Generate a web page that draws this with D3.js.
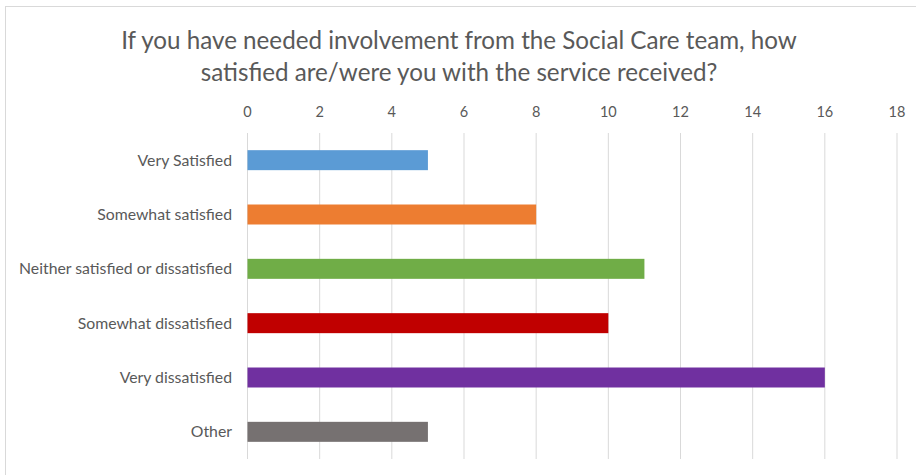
<!DOCTYPE html>
<html>
<head>
<meta charset="utf-8">
<script src="https://cdn.jsdelivr.net/npm/d3@7"></script>
<style>
  body { margin: 0; background: #fff; }
  text { font-family: Lato, "Open Sans", sans-serif; fill: #595959; }
</style>
</head>
<body>
<div id="chart"></div>
<script>
// survey answers, top to bottom
const categories = [
    "Very Satisfied",
    "Somewhat satisfied",
    "Neither satisfied or dissatisfied",
    "Somewhat dissatisfied ",
    "Very dissatisfied",
    "Other"
];
const counts = [5, 8, 11, 10, 16, 5];
const barColors = ["#5B9BD5", "#ED7D31", "#70AD47", "#C00000", "#7030A0", "#767171"];
const ticks = [0, 2, 4, 6, 8, 10, 12, 14, 16, 18];
const titleLines = [
    "If you have needed involvement from the Social Care team, how",
    "satisfied are/were you with the service received?"
];

const width = 916;
const height = 475;
const margin = { top: 133, right: 19, bottom: 16, left: 247.5 };

const svg = d3.select("#chart").append("svg")
    .attr("width", width)
    .attr("height", height);

// chart frame
svg.append("rect")
    .attr("x", 5.5)
    .attr("y", 6.5)
    .attr("width", width + 10)
    .attr("height", height + 10)
    .attr("fill", "#fff")
    .attr("stroke", "#d9d9d9");

const x = d3.scaleLinear()
    .domain([0, 18])
    .range([margin.left, width - margin.right]);

const y = d3.scaleBand()
    .domain(categories)
    .range([margin.top, height - margin.bottom])
    .paddingInner(0.632)
    .paddingOuter(0.316);

// title
svg.append("text")
    .attr("text-anchor", "middle")
    .style("font-size", "24.2px")
    .selectAll("tspan")
    .data(titleLines)
    .join("tspan")
    .attr("x", 459)
    .attr("y", (d, i) => 49 + i * 32)
    .text(d => d);

// gridlines
svg.append("g")
    .selectAll("line")
    .data(ticks)
    .join("line")
    .attr("x1", d => x(d))
    .attr("x2", d => x(d))
    .attr("y1", margin.top)
    .attr("y2", height - margin.bottom)
    .attr("stroke", "#d9d9d9")
    .attr("stroke-width", 1);

// top axis labels
svg.append("g")
    .attr("text-anchor", "middle")
    .style("font-size", "14.5px")
    .selectAll("text")
    .data(ticks)
    .join("text")
    .attr("x", d => x(d))
    .attr("y", 117)
    .text(d => d);

// bars
svg.append("g")
    .selectAll("rect")
    .data(categories)
    .join("rect")
    .attr("x", x(0))
    .attr("y", d => y(d))
    .attr("width", (d, i) => x(counts[i]) - x(0))
    .attr("height", y.bandwidth())
    .attr("fill", (d, i) => barColors[i]);

// category labels
svg.append("g")
    .attr("text-anchor", "end")
    .style("font-size", "15.8px")
    .style("white-space", "pre")
    .selectAll("text")
    .data(categories)
    .join("text")
    .attr("x", 232)
    .attr("y", d => y(d) + y.bandwidth() / 2)
    .attr("dy", "0.35em")
    .text(d => d);
</script>
</body>
</html>
